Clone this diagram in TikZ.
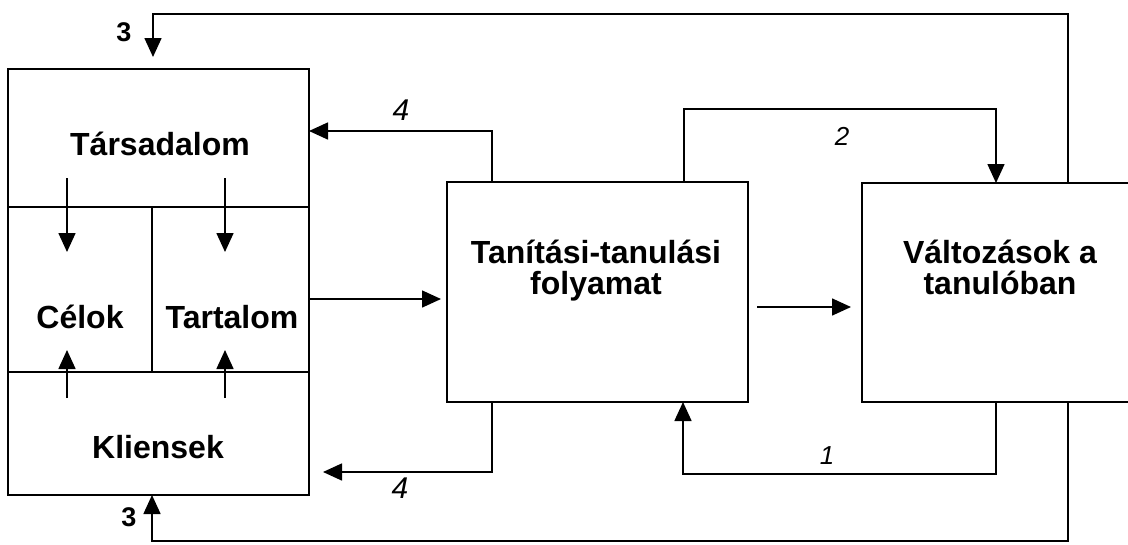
\documentclass[tikz,border=0pt]{standalone}
\usepackage{fontspec}
\setmainfont{Liberation Sans}
\usetikzlibrary{arrows.meta}
\begin{document}
\begin{tikzpicture}[x=1pt,y=-1pt,
  line width=1.6pt,
  box/.style={draw, rectangle, inner sep=0pt, outer sep=0pt, anchor=north west},
  lbl/.style={font=\fontsize{32}{31}\selectfont\bfseries, align=center, anchor=base, inner sep=0pt},
  num/.style={font=\fontsize{27}{27}\selectfont\bfseries, inner sep=0pt},
  hand/.style={font=\fontsize{30}{30}\selectfont\itshape, inner sep=0pt},
  handsm/.style={hand, font=\fontsize{26}{26}\selectfont\itshape},
  flow/.style={-{Triangle[length=19pt,width=17pt]}},
]
\useasboundingbox (0,0) rectangle (1128,544);
\clip (0,0) rectangle (1128,544);

% left block: society, goals, content, clients
\node[box, minimum width=301pt, minimum height=138pt] (tars)  at (8,69)   {};
\node[box, minimum width=144pt, minimum height=165pt] (celok) at (8,207)  {};
\node[box, minimum width=157pt, minimum height=165pt] (tart)  at (152,207) {};
\node[box, minimum width=301pt, minimum height=123pt] (klien) at (8,372)  {};

% process and outcome blocks
\node[box, minimum width=301pt, minimum height=220pt] (mid)   at (447,182) {};
\node[box, minimum width=300pt, minimum height=219pt] (right) at (862,183) {};

% texts (multi-line nodes are anchored on the last baseline)
\node[lbl] (tTars)  at (160,155) {Társadalom};
\node[lbl] (tCelok) at (80,328)  {Célok};
\node[lbl] (tTart)  at (232,328) {Tartalom};
\node[lbl] (tKlien) at (158,458) {Kliensek};
\node[lbl] (tMid)   at (596,294) {Tanítási-tanulási\\folyamat};
\node[lbl] (tRight) at (1000,294) {Változások a\\tanulóban};

% route corners
\coordinate (c3tr) at (1068,14);
\coordinate (c3tl) at (153,14);
\coordinate (c3br) at (1068,541);
\coordinate (c3bl) at (152,541);
\coordinate (c2l)  at (684,109);
\coordinate (c2r)  at (996,109);
\coordinate (c1r)  at (996,474);
\coordinate (c1l)  at (683,474);
\coordinate (c4t)  at (492,131);
\coordinate (c4b)  at (492,472);
\coordinate (h1)   at (0,299);
\coordinate (h2)   at (0,307);

% feedback loops
\draw[flow, shorten >=12pt] (right.north -| c3tr) -- (c3tr) -- (c3tl) -- (tars.north -| c3tl);
\draw[flow] (right.south -| c3br) -- (c3br) -- (c3bl) -- (klien.south -| c3bl);
\draw[flow] (mid.north -| c2l) -- (c2l) -- (c2r) -- (right.north -| c2r);
\draw[flow] (right.south -| c1r) -- (c1r) -- (c1l) -- (mid.south -| c1l);
\draw[flow] (mid.north -| c4t) -- (c4t) -- (tars.east |- c4t);
\draw[flow, shorten >=14pt] (mid.south -| c4b) -- (c4b) -- (klien.east |- c4b);

% main flow
\draw[flow, shorten >=6pt] (tart.east |- h1) -- (mid.west |- h1);
\draw[flow, shorten <=9pt, shorten >=11pt] (mid.east |- h2) -- (right.west |- h2);

% arrows inside the left block
\coordinate (d1s) at (67,178);  \coordinate (d1e) at (67,252);
\coordinate (d2s) at (225,178); \coordinate (d2e) at (225,252);
\coordinate (u1s) at (67,398);  \coordinate (u1e) at (67,350);
\coordinate (u2s) at (225,398); \coordinate (u2e) at (225,350);
\draw[flow] (d1s) -- (d1e);
\draw[flow] (d2s) -- (d2e);
\draw[flow] (u1s) -- (u1e);
\draw[flow] (u2s) -- (u2e);

% loop numbers
\node[num]    (n3t) at (124,32)  {3};
\node[num]    (n3b) at (129,517) {3};
\node[hand]   (n4t) at (401,110) {4};
\node[hand]   (n4b) at (400,488) {4};
\node[handsm] (n2)  at (842,136) {2};
\node[handsm] (n1)  at (827,456) {1};
\end{tikzpicture}
\end{document}
